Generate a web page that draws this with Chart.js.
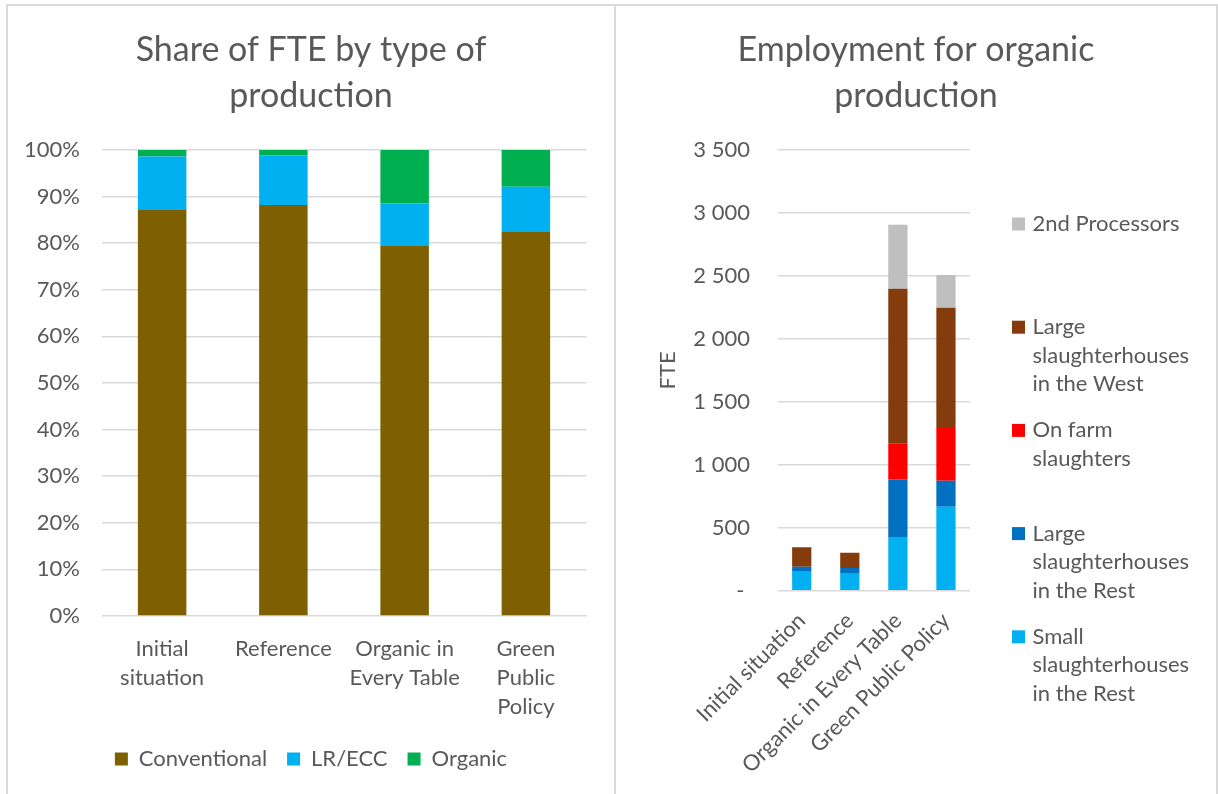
<!DOCTYPE html>
<html>
<head>
<meta charset="utf-8">
<title>FTE by type of production</title>
<script src="https://cdn.jsdelivr.net/npm/chart.js@4.4.1/dist/chart.umd.min.js"></script>
<style>
  html, body { margin: 0; padding: 0; background: #ffffff; width: 1218px; height: 794px; overflow: hidden; }
  .rule { position: absolute; background: #d9d9d9; }
  canvas { position: absolute; }
</style>
</head>
<body>
<div class="rule" style="left:6px;top:4px;width:1212px;height:2px"></div>
<div class="rule" style="left:6px;top:4px;width:2px;height:790px"></div>
<div class="rule" style="left:614px;top:4px;width:2px;height:790px"></div>
<div class="rule" style="left:1216px;top:4px;width:2px;height:790px"></div>
<canvas id="shareChart" width="606" height="788" style="left:8px;top:6px"></canvas>
<canvas id="organicChart" width="600" height="788" style="left:616px;top:6px"></canvas>
<script>
// Scenarios
const scenarios = ['Initial situation', 'Reference', 'Organic in Every Table', 'Green Public Policy'];
const scenarioLabelLines = [['Initial', 'situation'], ['Reference'], ['Organic in', 'Every Table'], ['Green', 'Public', 'Policy']];

// Share of FTE (%) by type of production
const conventionalShare = [87.1, 88.2, 79.4, 82.4];
const lrEccShare = [11.5, 10.7, 9.1, 9.7];
const organicShare = [1.4, 1.1, 11.5, 7.9];

// Employment for organic production (FTE)
const smallRest = [151, 141, 427, 667];
const largeRest = [40, 39, 458, 207];
const onFarm = [0, 0, 286, 426];
const largeWest = [154, 122, 1228, 948];
const secondProcessors = [0, 0, 508, 260];

// Legend text, wrapped the way it is shown
const organicLegendLines = [
  ['2nd Processors'],
  ['Large', 'slaughterhouses', 'in the West'],
  ['On farm', 'slaughters'],
  ['Large', 'slaughterhouses', 'in the Rest'],
  ['Small', 'slaughterhouses', 'in the Rest']
];

const TEXT = '#595959';
const GRID = '#d9d9d9';
const FONT = 'Lato';

Chart.defaults.font.family = FONT;
Chart.defaults.color = TEXT;

function spaceThousands(v) {
  if (v === 0) return '- ';
  return String(v).replace(/\B(?=(\d{3})+(?!\d))/g, ' ');
}

const titleOpts = (lines) => ({
  display: true,
  text: lines,
  color: TEXT,
  font: { family: FONT, size: 34, weight: 'normal', lineHeight: 46 / 34 },
  padding: { top: 21, bottom: 31 }
});

// ---- Left: share of FTE by type of production ----
new Chart(document.getElementById('shareChart'), {
  type: 'bar',
  data: {
    labels: scenarioLabelLines,
    datasets: [
      { label: 'Conventional', data: conventionalShare, backgroundColor: '#7f6000' },
      { label: 'LR/ECC', data: lrEccShare, backgroundColor: '#00b0f0' },
      { label: 'Organic', data: organicShare, backgroundColor: '#00b050' }
    ]
  },
  options: {
    responsive: false,
    animation: false,
    devicePixelRatio: 1,
    layout: { padding: { left: 0, right: 0, top: 0, bottom: 14 } },
    datasets: { bar: { categoryPercentage: 1, barPercentage: 0.4 } },
    plugins: {
      title: titleOpts(['Share of FTE by type of', 'production']),
      legend: {
        position: 'bottom',
        labels: { boxWidth: 13, boxHeight: 13, padding: 20, color: TEXT, font: { size: 22 } }
      },
      tooltip: { enabled: false }
    },
    scales: {
      x: {
        stacked: true,
        grid: { display: false },
        border: { display: false },
        ticks: { color: TEXT, font: { size: 22, lineHeight: 29 / 22 }, padding: 10.5, maxRotation: 0, autoSkip: false },
        afterFit(s) { s.height = 112; }
      },
      y: {
        stacked: true,
        min: 0, max: 100,
        grid: { color: GRID, lineWidth: 1.5, drawTicks: false },
        border: { display: false },
        ticks: { stepSize: 10, color: TEXT, font: { size: 22 }, padding: 21.5, callback: v => v + '%' },
        afterFit(s) { s.width = 93.5; }
      },
      pad: {
        type: 'linear', position: 'right', display: true,
        grid: { display: false }, border: { display: false }, ticks: { display: false },
        afterFit(s) { s.width = 27.5; }
      }
    }
  }
});

// ---- Right: employment for organic production ----
const sideLegend = {
  id: 'sideLegend',
  afterDraw(chart) {
    const ctx = chart.ctx;
    const n = chart.data.datasets.length;
    const boxX = 396, textX = 416.5, firstY = 218, itemStep = 103.2, lineStep = 28.5, box = 13;
    ctx.save();
    ctx.font = '22px ' + FONT;
    ctx.textBaseline = 'middle';
    ctx.textAlign = 'left';
    for (let k = 0; k < n; k++) {
      const ds = chart.data.datasets[n - 1 - k];
      const y0 = firstY + k * itemStep;
      ctx.fillStyle = ds.backgroundColor;
      ctx.fillRect(boxX, y0 - box / 2, box, box);
      ctx.fillStyle = TEXT;
      organicLegendLines[k].forEach((line, j) => ctx.fillText(line, textX, y0 + j * lineStep));
    }
    ctx.restore();
  }
};

new Chart(document.getElementById('organicChart'), {
  type: 'bar',
  data: {
    labels: scenarios,
    datasets: [
      { label: 'Small slaughterhouses in the Rest', data: smallRest, backgroundColor: '#00b0f0' },
      { label: 'Large slaughterhouses in the Rest', data: largeRest, backgroundColor: '#0070c0' },
      { label: 'On farm slaughters', data: onFarm, backgroundColor: '#ff0000' },
      { label: 'Large slaughterhouses in the West', data: largeWest, backgroundColor: '#843c0c' },
      { label: '2nd Processors', data: secondProcessors, backgroundColor: '#bfbfbf' }
    ]
  },
  options: {
    responsive: false,
    animation: false,
    devicePixelRatio: 1,
    layout: { padding: 0 },
    datasets: { bar: { categoryPercentage: 1, barPercentage: 0.4 } },
    plugins: {
      title: titleOpts(['Employment for organic', 'production']),
      legend: { display: false },
      tooltip: { enabled: false }
    },
    scales: {
      x: {
        stacked: true,
        grid: { display: false },
        border: { display: false },
        ticks: { color: TEXT, font: { size: 22 }, padding: 9, minRotation: 45, maxRotation: 45, autoSkip: false },
        afterFit(s) { s.height = 203.3; }
      },
      y: {
        stacked: true,
        min: 0, max: 3500,
        grid: { color: GRID, lineWidth: 1.5, drawTicks: false },
        border: { display: false },
        title: { display: true, text: 'FTE', color: TEXT, font: { size: 22 }, padding: { top: 38.3, bottom: 0 } },
        ticks: { stepSize: 500, color: TEXT, font: { size: 22 }, padding: 27.7, callback: v => spaceThousands(v) },
        afterFit(s) { s.width = 161.7; }
      },
      pad: {
        type: 'linear', position: 'right', display: true,
        grid: { display: false }, border: { display: false }, ticks: { display: false },
        afterFit(s) { s.width = 246; }
      }
    }
  },
  plugins: [sideLegend]
});
</script>
</body>
</html>
